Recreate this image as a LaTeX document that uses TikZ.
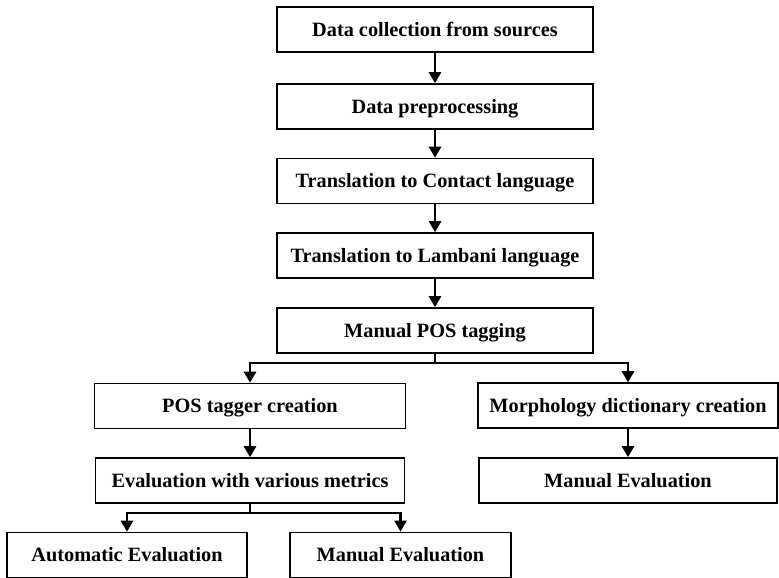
\documentclass[tikz,border=0pt]{standalone}
\usepackage{fontspec}
\setmainfont{Liberation Serif}
\usetikzlibrary{arrows.meta}
\begin{document}
\begin{tikzpicture}[x=1pt,y=-1pt,
  stepbox/.style={draw, line width=1.6pt, minimum height=45pt, inner sep=0pt,
    font=\fontsize{20.3}{24}\selectfont\bfseries, text height=13.3pt, text depth=0pt},
  flow/.style={line width=2.7pt, -{Triangle[width=12pt,length=11pt]}},
  link/.style={line width=2.7pt}]
\useasboundingbox (0,0) rectangle (779,578);

% main pipeline
\node[stepbox, minimum width=316pt] (collect) at (435,29.5)  {Data collection from sources};
\node[stepbox, minimum width=316pt] (prep)    at (435,106.5) {Data preprocessing};
\node[stepbox, minimum width=316pt] (contact) at (435,181)   {Translation to Contact language};
\node[stepbox, minimum width=316pt] (lambani) at (435,255.5) {Translation to Lambani language};
\node[stepbox, minimum width=316pt] (tag)     at (435,330.5) {Manual POS tagging};

% two branches
\node[stepbox, minimum width=311pt] (postag)  at (250,406)   {POS tagger creation};
\node[stepbox, minimum width=300pt] (morph)   at (628,405.5) {Morphology dictionary creation};
\node[stepbox, minimum width=309pt] (metrics) at (250,480.5) {Evaluation with various metrics};
\node[stepbox, minimum width=298pt] (mevalR)  at (628,480.5) {Manual Evaluation};

% evaluation outcomes
\node[stepbox, minimum width=240pt] (autoev)  at (127,555)   {Automatic Evaluation};
\node[stepbox, minimum width=221pt] (mevalL)  at (400.5,555) {Manual Evaluation};

\draw[flow] (collect) -- (prep);
\draw[flow] (prep) -- (contact);
\draw[flow] (contact) -- (lambani);
\draw[flow] (lambani) -- (tag);

\coordinate (split) at (435,363);
\draw[link] (tag.south) -- (split);
\draw[flow] (split) -| (postag.north);
\draw[flow] (split) -| (morph.north);

\draw[flow] (postag) -- (metrics);
\draw[flow] (morph) -- (mevalR);

\coordinate (fork) at (250,513);
\draw[link] (metrics.south) -- (fork);
\draw[flow] (fork) -| (autoev.north);
\draw[flow] (fork) -| (mevalL.north);
\end{tikzpicture}
\end{document}
